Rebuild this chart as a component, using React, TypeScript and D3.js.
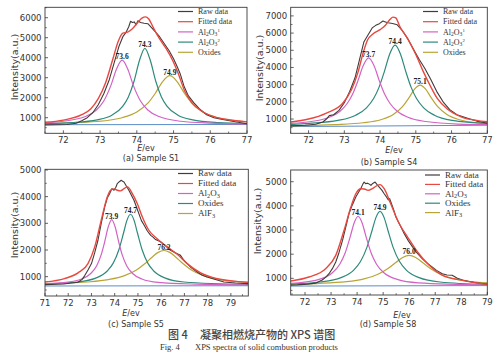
import React from 'react';
import * as d3 from 'd3';

type Pt = [number, number];

// ---------- (a) Sample S1 ----------
const s1Raw: Pt[] = [[71.5, 640], [71.8, 650], [72.1, 660], [72.35, 720], [72.5, 850], [72.65, 1000], [72.8, 1250], [72.95, 1650], [73.1, 2200], [73.25, 2900], [73.4, 3850], [73.52, 4600], [73.62, 5050], [73.7, 5250], [73.78, 5550], [73.83, 5820], [73.88, 5760], [73.93, 5790], [73.98, 5650], [74.03, 5850], [74.1, 5760], [74.2, 5720], [74.3, 5700], [74.4, 5500], [74.5, 5300], [74.62, 5050], [74.75, 4700], [74.88, 4350], [75.0, 3950], [75.1, 3550], [75.18, 3200], [75.28, 2600], [75.4, 2100], [75.55, 1750], [75.7, 1450], [75.9, 1150], [76.1, 1000], [76.3, 920], [76.6, 820], [77, 700]];
const s1Fit: Pt[] = [[71.5, 770], [72.0, 880], [72.5, 1150], [72.75, 1450], [72.95, 1950], [73.15, 2750], [73.35, 3950], [73.5, 4850], [73.62, 5230], [73.75, 5280], [73.88, 5450], [74.02, 5750], [74.14, 5980], [74.24, 6040], [74.32, 5950], [74.45, 5500], [74.6, 5000], [74.8, 4450], [74.98, 3850], [75.12, 3250], [75.3, 2350], [75.5, 1750], [75.75, 1350], [76.1, 1050], [76.5, 900], [77, 790]];
const s1AlA: Pt[] = [[71.5, 740], [72.0, 822], [72.6, 1057], [72.9, 1386], [73.1, 1833], [73.3, 2640], [73.45, 3444], [73.6, 3880], [73.75, 3444], [73.9, 2640], [74.1, 1833], [74.3, 1386], [74.6, 1057], [75.2, 822], [76.0, 729], [77, 690]];
const s1AlB: Pt[] = [[71.5, 709], [72.22, 757], [72.92, 895], [73.32, 1127], [73.62, 1579], [73.77, 2038], [73.92, 2797], [74.07, 3847], [74.22, 4470], [74.37, 3847], [74.52, 2797], [74.67, 2038], [74.82, 1579], [75.12, 1127], [75.52, 895], [76.22, 757], [77, 709]];
const s1Ox: Pt[] = [[71.5, 708], [72.9, 811], [73.6, 999], [74.0, 1281], [74.3, 1724], [74.5, 2211], [74.7, 2796], [74.9, 3100], [75.1, 2796], [75.3, 2211], [75.5, 1724], [75.8, 1281], [76.2, 999], [77, 797]];
const s1Base: Pt[] = [[71.5, 650], [77, 660]];

// ---------- (b) Sample S4 ----------
const s4Raw: Pt[] = [[71.5, 600], [71.9, 640], [72.2, 700], [72.4, 830], [72.5, 1000], [72.58, 1200], [72.7, 1250], [72.85, 1500], [73.0, 1950], [73.15, 2600], [73.3, 3400], [73.43, 4500], [73.55, 5500], [73.65, 5850], [73.78, 6300], [73.88, 6450], [73.98, 6550], [74.08, 6700], [74.15, 6650], [74.22, 6600], [74.35, 6560], [74.48, 6480], [74.62, 6150], [74.78, 5650], [74.95, 5000], [75.1, 4450], [75.25, 3950], [75.42, 3300], [75.6, 2550], [75.78, 1950], [75.95, 1550], [76.15, 1250], [76.45, 1050], [76.7, 880], [77, 760]];
const s4Fit: Pt[] = [[71.5, 830], [72.0, 1000], [72.5, 1350], [72.95, 1900], [73.2, 2700], [73.38, 3700], [73.52, 4800], [73.65, 5600], [73.8, 5950], [74.0, 6200], [74.15, 6450], [74.28, 6800], [74.36, 6930], [74.44, 6880], [74.56, 6350], [74.75, 5750], [75.0, 4750], [75.2, 3800], [75.4, 2950], [75.6, 2200], [75.9, 1550], [76.3, 1100], [76.7, 920], [77, 840]];
const s4AlA: Pt[] = [[71.5, 742], [72.08, 855], [72.58, 1103], [72.88, 1455], [73.08, 1903], [73.23, 2441], [73.38, 3222], [73.53, 4112], [73.68, 4560], [73.83, 4112], [73.98, 3222], [74.13, 2441], [74.28, 1903], [74.48, 1455], [74.78, 1103], [75.28, 855], [76.18, 709], [77, 682]];
const s4AlB: Pt[] = [[71.5, 680], [72.02, 746], [72.82, 917], [73.32, 1223], [73.62, 1654], [73.82, 2193], [73.97, 2843], [74.12, 3760], [74.27, 4788], [74.42, 5300], [74.57, 4788], [74.72, 3760], [74.87, 2843], [75.02, 2193], [75.22, 1654], [75.52, 1223], [76.02, 917], [77, 740]];
const s4Ox: Pt[] = [[71.5, 600], [72.72, 676], [73.52, 785], [74.02, 960], [74.37, 1260], [74.62, 1702], [74.82, 2277], [74.97, 2752], [75.12, 2975], [75.27, 2752], [75.42, 2277], [75.62, 1702], [75.87, 1260], [76.22, 960], [76.72, 785], [77, 770]];
const s4Base: Pt[] = [[71.5, 560], [77, 640]];

// ---------- (c) Sample S5 ----------
const s5Raw: Pt[] = [[71, 700], [71.8, 725], [72.42, 790], [72.6, 900], [72.71, 1040], [72.85, 1250], [73, 1490], [73.14, 1900], [73.28, 2365], [73.42, 3000], [73.57, 3615], [73.68, 3950], [73.78, 4110], [73.88, 4300], [73.97, 4240], [74.05, 4350], [74.11, 4490], [74.2, 4560], [74.28, 4615], [74.34, 4580], [74.4, 4550], [74.5, 4400], [74.61, 4240], [74.72, 4050], [74.83, 3865], [74.94, 3600], [75.04, 3365], [75.15, 3100], [75.27, 2925], [75.4, 2720], [75.55, 2550], [75.65, 2480], [75.76, 2390], [75.85, 2360], [75.98, 2300], [76.2, 2150], [76.4, 1990], [76.6, 1900], [76.83, 1800], [76.95, 1650], [77.12, 1490], [77.3, 1330], [77.55, 1175], [77.75, 1060], [77.98, 990], [78.3, 900], [78.7, 800], [79.2, 760], [79.75, 740]];
const s5Fit: Pt[] = [[71, 800], [71.84, 925], [72.42, 1140], [72.85, 1490], [73.14, 2115], [73.42, 3115], [73.68, 3990], [73.83, 4250], [73.97, 4290], [74.11, 4240], [74.25, 4215], [74.4, 4300], [74.55, 4365], [74.76, 4110], [74.97, 3740], [75.19, 3240], [75.47, 2740], [75.83, 2425], [76.26, 2115], [76.69, 1840], [77.12, 1490], [77.7, 1140], [78.41, 925], [79.75, 790]];
const s5Al: Pt[] = [[71, 732], [71.87, 784], [72.57, 912], [72.97, 1120], [73.22, 1403], [73.42, 1824], [73.57, 2309], [73.72, 2862], [73.87, 3140], [74.02, 2862], [74.17, 2309], [74.32, 1824], [74.52, 1403], [74.77, 1120], [75.17, 912], [75.87, 784], [77.5, 720], [79.75, 692]];
const s5Ox: Pt[] = [[71, 728], [72.38, 800], [73.18, 946], [73.68, 1212], [73.93, 1499], [74.18, 2010], [74.38, 2636], [74.53, 3120], [74.68, 3340], [74.83, 3120], [74.98, 2636], [75.18, 2010], [75.43, 1499], [75.68, 1212], [76.18, 946], [76.98, 800], [79.75, 706]];
const s5AlF: Pt[] = [[71, 732], [72.82, 800], [73.72, 889], [74.42, 1039], [74.92, 1243], [75.32, 1503], [75.62, 1740], [75.87, 1910], [76.12, 1980], [76.37, 1910], [76.62, 1740], [76.92, 1503], [77.32, 1243], [77.82, 1039], [78.52, 889], [79.42, 800], [79.75, 780]];
const s5Base: Pt[] = [[71, 650], [79.75, 660]];

// ---------- (d) Sample S8 ----------
const s8Raw: Pt[] = [[71.45, 720], [71.7, 730], [72.1, 760], [72.4, 800], [72.66, 930], [72.8, 1050], [72.92, 1190], [73.05, 1400], [73.18, 1675], [73.3, 2050], [73.44, 2570], [73.56, 3100], [73.69, 3680], [73.82, 4050], [73.95, 4365], [74.05, 4550], [74.14, 4710], [74.22, 4900], [74.27, 4985], [74.33, 4920], [74.4, 4940], [74.47, 4900], [74.53, 4850], [74.6, 4930], [74.69, 4985], [74.77, 4880], [74.85, 4780], [74.95, 4650], [75.04, 4500], [75.12, 4380], [75.2, 4250], [75.25, 4300], [75.3, 4150], [75.4, 3850], [75.49, 3540], [75.65, 3200], [75.81, 2850], [75.97, 2550], [76.13, 2300], [76.3, 2050], [76.5, 1815], [76.7, 1620], [76.88, 1470], [77.05, 1330], [77.27, 1190], [77.45, 1140], [77.65, 1125], [77.85, 1000], [78.05, 930], [78.3, 870], [78.56, 820], [79, 760]];
const s8Fit: Pt[] = [[71.45, 890], [72.15, 1055], [72.79, 1400], [73.18, 1950], [73.5, 2990], [73.76, 3950], [73.95, 4500], [74.14, 4710], [74.28, 4700], [74.42, 4640], [74.6, 4720], [74.78, 4850], [74.88, 4880], [75.04, 4710], [75.29, 4090], [75.62, 3260], [75.94, 2710], [76.32, 2090], [76.77, 1540], [77.28, 1125], [78.05, 917], [79, 750]];
const s8Al: Pt[] = [[71.45, 792], [71.74, 815], [72.54, 956], [73.04, 1219], [73.34, 1593], [73.54, 2047], [73.74, 2740], [73.89, 3304], [74.04, 3570], [74.19, 3304], [74.34, 2740], [74.54, 2047], [74.74, 1593], [75.04, 1219], [75.54, 956], [76.34, 815], [79, 726]];
const s8Ox: Pt[] = [[71.45, 769], [72.58, 849], [73.38, 1029], [73.88, 1353], [74.13, 1697], [74.38, 2294], [74.58, 3003], [74.73, 3534], [74.88, 3770], [75.03, 3534], [75.18, 3003], [75.38, 2294], [75.63, 1697], [75.88, 1353], [76.38, 1029], [77.18, 849], [79, 748]];
const s8AlF: Pt[] = [[71.45, 750], [73.6, 863], [74.3, 988], [74.8, 1169], [75.2, 1419], [75.5, 1670], [75.75, 1866], [76.0, 1950], [76.25, 1866], [76.5, 1670], [76.8, 1419], [77.2, 1169], [77.7, 988], [78.4, 863], [79, 810]];
const s8Base: Pt[] = [[71.45, 680], [79, 700]];

const xTicksAB = [72, 73, 74, 75, 76, 77];
const xTicksC = [71, 72, 73, 74, 75, 76, 77, 78, 79];
const xTicksD = [72, 73, 74, 75, 76, 77, 78, 79];
const yTicksA = [1000, 2000, 3000, 4000, 5000, 6000];
const yTicksB = [1000, 2000, 3000, 4000, 5000, 6000, 7000];
const yTicksCD = [1000, 2000, 3000, 4000, 5000];

const C_RAW = '#433a3a';
const C_FIT = '#e8483f';
const C_AL = '#d263c4';
const C_AL2 = '#2e8a7b';
const C_OX = '#b9a537';
const C_BASE = '#5b8cc6';

const SANS = 'DejaVu Sans, sans-serif';
const SERIF = 'Liberation Serif, serif';

const chem = (sup?: string) => (
  <>
    <tspan>Al</tspan>
    <tspan dy={1.6} fontSize="70%">2</tspan>
    <tspan dy={-1.6}>O</tspan>
    <tspan dy={1.6} fontSize="70%">3</tspan>
    {sup ? <tspan dy={-4.6} fontSize="60%">{sup}</tspan> : null}
  </>
);
const alf = (
  <>
    <tspan>AlF</tspan>
    <tspan dy={1.6} fontSize="70%">3</tspan>
  </>
);

interface Series { data: Pt[]; color: string; w: number; smooth: boolean; }
interface LegendItem { label: React.ReactNode; color: string; }

interface PanelProps {
  left: number; right: number; top: number; bottom: number;
  xDomain: [number, number]; yDomain: [number, number];
  xTicks: number[]; yTicks: number[];
  series: Series[];
  legend: LegendItem[];
  legX: number; legY: number; legStep: number; legFont: number;
  peaks: { data: Pt[]; text: string }[];
  yLabel: [number, number]; xLabel: [number, number]; caption: [number, number];
  captionText: string;
}

function Panel(p: PanelProps) {
  const x = d3.scaleLinear().domain(p.xDomain).range([p.left, p.right]);
  const y = d3.scaleLinear().domain(p.yDomain).range([p.bottom, p.top]);
  const smoothLine = d3.line<Pt>().x(d => x(d[0])).y(d => y(d[1])).curve(d3.curveMonotoneX);
  const rawLine = d3.line<Pt>().x(d => x(d[0])).y(d => y(d[1]));
  const xMinor = d3.range(Math.ceil(p.xDomain[0] * 2) / 2, p.xDomain[1] + 1e-6, 0.5).filter(v => Math.abs(v - Math.round(v)) > 0.01);
  const yMinor = d3.range(500, p.yDomain[1], 1000).filter(v => v > p.yDomain[0]);
  const clipId = `clip-${Math.round(p.left)}-${Math.round(p.top)}`;
  return (
    <g>
      <defs>
        <clipPath id={clipId}>
          <rect x={p.left} y={p.top} width={p.right - p.left} height={p.bottom - p.top} />
        </clipPath>
      </defs>
      <g clipPath={`url(#${clipId})`} fill="none">
        {p.series.map((s, i) => (
          <path key={i} d={(s.smooth ? smoothLine : rawLine)(s.data) || ''} stroke={s.color} strokeWidth={s.w} strokeLinejoin="round" />
        ))}
      </g>
      <rect x={p.left} y={p.top} width={p.right - p.left} height={p.bottom - p.top} fill="none" stroke="#3a3a3a" strokeWidth={0.9} />
      {p.xTicks.map(t => (
        <g key={'x' + t}>
          <line x1={x(t)} x2={x(t)} y1={p.bottom} y2={p.bottom - 3} stroke="#3a3a3a" strokeWidth={0.8} />
          <text x={x(t)} y={p.bottom + 10} textAnchor="middle" fontSize={8.5} fontFamily={SANS} fill="#333">{t}</text>
        </g>
      ))}
      {xMinor.map(t => (
        <line key={'xm' + t} x1={x(t)} x2={x(t)} y1={p.bottom} y2={p.bottom - 1.8} stroke="#3a3a3a" strokeWidth={0.7} />
      ))}
      {p.yTicks.map(t => (
        <g key={'y' + t}>
          <line x1={p.left} x2={p.left + 3} y1={y(t)} y2={y(t)} stroke="#3a3a3a" strokeWidth={0.8} />
          <text x={p.left - 3.5} y={y(t) + 3} textAnchor="end" fontSize={8.5} fontFamily={SANS} fill="#333">{t}</text>
        </g>
      ))}
      {yMinor.map(t => (
        <line key={'ym' + t} x1={p.left} x2={p.left + 1.8} y1={y(t)} y2={y(t)} stroke="#3a3a3a" strokeWidth={0.7} />
      ))}
      {p.peaks.map(pk => {
        const top = pk.data.reduce((a, b) => (b[1] > a[1] ? b : a));
        return (
          <text key={pk.text} x={x(top[0])} y={y(top[1]) - 1} textAnchor="middle" fontSize={7.5} fontWeight="bold" fontFamily={SERIF} fill="#222">{pk.text}</text>
        );
      })}
      {p.legend.map((l, i) => (
        <g key={i}>
          <line x1={p.legX} x2={p.legX + 15} y1={p.legY + i * p.legStep} y2={p.legY + i * p.legStep} stroke={l.color} strokeWidth={1.2} />
          <text x={p.legX + 20} y={p.legY + i * p.legStep + p.legFont * 0.33} fontSize={p.legFont} fontFamily={SERIF} fill="#333">{l.label}</text>
        </g>
      ))}
      <text transform={`translate(${p.yLabel[0]},${p.yLabel[1]}) rotate(-90)`} dy="0.35em" textAnchor="middle" fontSize={9.5} fontFamily={SANS} fill="#333">Intensity(a.u.)</text>
      <text x={p.xLabel[0]} y={p.xLabel[1]} textAnchor="middle" fontSize={8} fontFamily={SANS} fill="#333">
        <tspan fontStyle="italic">E</tspan>/ev
      </text>
      <text x={p.caption[0]} y={p.caption[1]} textAnchor="middle" fontSize={8} fontFamily={SANS} fill="#333">{p.captionText}</text>
    </g>
  );
}

export default function App() {
  const legendAB: LegendItem[] = [
    { label: 'Raw data', color: C_RAW },
    { label: 'Fitted data', color: C_FIT },
    { label: chem('1'), color: C_AL },
    { label: chem('2'), color: C_AL2 },
    { label: 'Oxides', color: C_OX },
  ];
  const legendCD: LegendItem[] = [
    { label: 'Raw data', color: C_RAW },
    { label: 'Fitted data', color: C_FIT },
    { label: chem(), color: C_AL },
    { label: 'Oxides', color: C_AL2 },
    { label: alf, color: C_OX },
  ];
  const mk = (base: Pt[], a: Pt[], b: Pt[], c: Pt[], raw: Pt[], fit: Pt[]): Series[] => [
    { data: base, color: C_BASE, w: 1, smooth: false },
    { data: c, color: C_OX, w: 1.2, smooth: true },
    { data: b, color: C_AL2, w: 1.2, smooth: true },
    { data: a, color: C_AL, w: 1.2, smooth: true },
    { data: raw, color: C_RAW, w: 1.1, smooth: false },
    { data: fit, color: C_FIT, w: 1.4, smooth: true },
  ];
  return (
    <svg width={500} height={359} style={{ position: 'absolute', left: 0, top: 0, background: '#fff' }}>
      <rect width={500} height={359} fill="#fff" />
      <Panel left={45} right={247} top={7.3} bottom={133.3} xDomain={[71.5, 77]} yDomain={[220, 6520]}
        xTicks={xTicksAB} yTicks={yTicksA} series={mk(s1Base, s1AlA, s1AlB, s1Ox, s1Raw, s1Fit)}
        legend={legendAB} legX={178} legY={11.5} legStep={10.2} legFont={8}
        peaks={[{ data: s1AlA, text: '73.6' }, { data: s1AlB, text: '74.3' }, { data: s1Ox, text: '74.9' }]}
        yLabel={[15, 67]} xLabel={[146, 151]} caption={[151, 161]} captionText="(a) Sample S1" />
      <Panel left={290.7} right={487.3} top={7.3} bottom={133.3} xDomain={[71.5, 77]} yDomain={[170, 7500]}
        xTicks={xTicksAB} yTicks={yTicksB} series={mk(s4Base, s4AlA, s4AlB, s4Ox, s4Raw, s4Fit)}
        legend={legendAB} legX={423} legY={11.5} legStep={10.2} legFont={8}
        peaks={[{ data: s4AlA, text: '73.7' }, { data: s4AlB, text: '74.4' }, { data: s4Ox, text: '75.1' }]}
        yLabel={[259.5, 68]} xLabel={[394, 153]} caption={[389, 165]} captionText="(b) Sample S4" />
      <Panel left={45} right={248.3} top={169.3} bottom={296} xDomain={[71, 79.75]} yDomain={[275, 5025]}
        xTicks={xTicksC} yTicks={yTicksCD} series={mk(s5Base, s5Al, s5Ox, s5AlF, s5Raw, s5Fit)}
        legend={legendCD} legX={178} legY={173.5} legStep={10} legFont={9}
        peaks={[{ data: s5Al, text: '73.9' }, { data: s5Ox, text: '74.7' }, { data: s5AlF, text: '76.2' }]}
        yLabel={[14.5, 225]} xLabel={[131, 316]} caption={[136, 327]} captionText="(c) Sample S5" />
      <Panel left={290.7} right={487.3} top={170} bottom={295} xDomain={[71.45, 79]} yDomain={[310, 5485]}
        xTicks={xTicksD} yTicks={yTicksCD} series={mk(s8Base, s8Al, s8Ox, s8AlF, s8Raw, s8Fit)}
        legend={legendCD} legX={425} legY={175} legStep={9.4} legFont={9}
        peaks={[{ data: s8Al, text: '74.1' }, { data: s8Ox, text: '74.9' }, { data: s8AlF, text: '76.0' }]}
        yLabel={[257.5, 221]} xLabel={[402, 318]} caption={[388, 327]} captionText="(d) Sample S8" />
      <text x={168} y={339} fontSize={11} fontFamily="Noto Sans CJK SC, sans-serif" fontWeight={500} fill="#444">图 4</text>
      <text x={200} y={339} fontSize={11} fontFamily="Noto Sans CJK SC, sans-serif" fontWeight={500} fill="#444">凝聚相燃烧产物的 XPS 谱图</text>
      <text x={160} y={349.5} fontSize={8.5} fontFamily={SERIF} fill="#333">Fig. 4</text>
      <text x={195} y={349.5} fontSize={8.5} fontFamily={SERIF} fill="#333">XPS spectra of solid combustion products</text>
    </svg>
  );
}
